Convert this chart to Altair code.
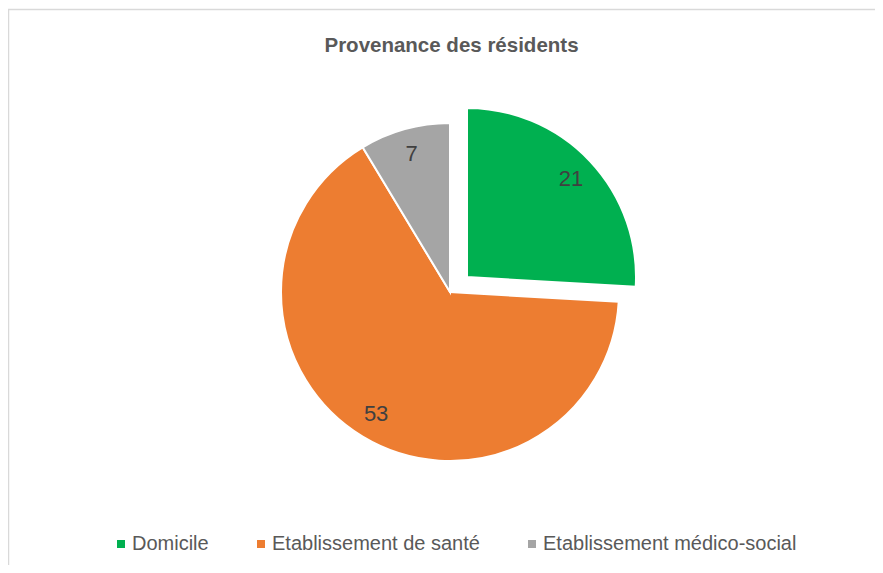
import math
import altair as alt
import pandas as pd

categories = ["Domicile", "Etablissement de santé", "Etablissement médico-social"]
values = [21, 53, 7]
colors = ["#00B050", "#ED7D31", "#A5A5A5"]
title_text = "Provenance des résidents"

df = pd.DataFrame({"cat": categories, "val": values})
df["end"] = df["val"].cumsum()
df["start"] = df["end"] - df["val"]
df["mid"] = (df["start"] + df["end"]) / 2
total = sum(values)

FONT = "Liberation Sans, Arial, sans-serif"
W, H = 867, 557
CX, CY = 442, 284           # pie centre (view px)
EX, EY = 459, 269           # exploded slice centre
R = 169
LR = 143

theta_scale = alt.Scale(domain=[0, total], range=[0, 2 * math.pi])
color = alt.Color(
    "cat:N",
    scale=alt.Scale(domain=categories, range=colors),
    title=None,
    legend=alt.Legend(
        orient="none", legendX=103, legendY=526, direction="horizontal",
        symbolType="square", symbolSize=64, symbolStrokeWidth=0,
        labelFontSize=20, labelFont=FONT, labelColor="#595959",
        columnPadding=42, labelOffset=1, labelLimit=0,
    ),
)

base = alt.Chart(df)
first = categories[0]

main = base.transform_filter(alt.datum.cat != first).mark_arc(
    radius=R, stroke="white", strokeWidth=2
).encode(
    theta=alt.Theta("start:Q", scale=theta_scale),
    theta2="end:Q",
    color=color,
    x=alt.value(CX), y=alt.value(CY),
)

expl = base.transform_filter(alt.datum.cat == first).mark_arc(
    radius=R, stroke="white", strokeWidth=2
).encode(
    theta=alt.Theta("start:Q", scale=theta_scale),
    theta2="end:Q",
    color=color,
    x=alt.value(EX), y=alt.value(EY),
)

lab_main = base.transform_filter(alt.datum.cat != first).mark_text(
    radius=LR, fontSize=22, font=FONT, color="#404040"
).encode(
    theta=alt.Theta("mid:Q", scale=theta_scale),
    text="val:Q",
    x=alt.value(CX), y=alt.value(CY),
)

lab_expl = base.transform_filter(alt.datum.cat == first).mark_text(
    radius=LR, fontSize=22, font=FONT, color="#404040"
).encode(
    theta=alt.Theta("mid:Q", scale=theta_scale),
    text="val:Q",
    x=alt.value(EX), y=alt.value(EY),
)

border = alt.Chart(pd.DataFrame({"a": [0]})).mark_rect(
    fill=None, stroke="#d9d9d9", strokeWidth=1.5
).encode(
    x=alt.value(0.5), y=alt.value(1.5), x2=alt.value(W + 20), y2=alt.value(H + 20)
)

chart = alt.layer(border, main, expl, lab_main, lab_expl).properties(
    width=W, height=H,
    title=alt.Title(title_text, fontSize=20.5, font=FONT, color="#595959",
                    fontWeight="bold", anchor="middle", offset=0, dy=48, dx=10),
    autosize=alt.AutoSizeParams(type="none"),
    padding=0,
).configure_view(stroke=None)

chart.save("out.html", embed_options={"renderer": "svg", "actions": False})
